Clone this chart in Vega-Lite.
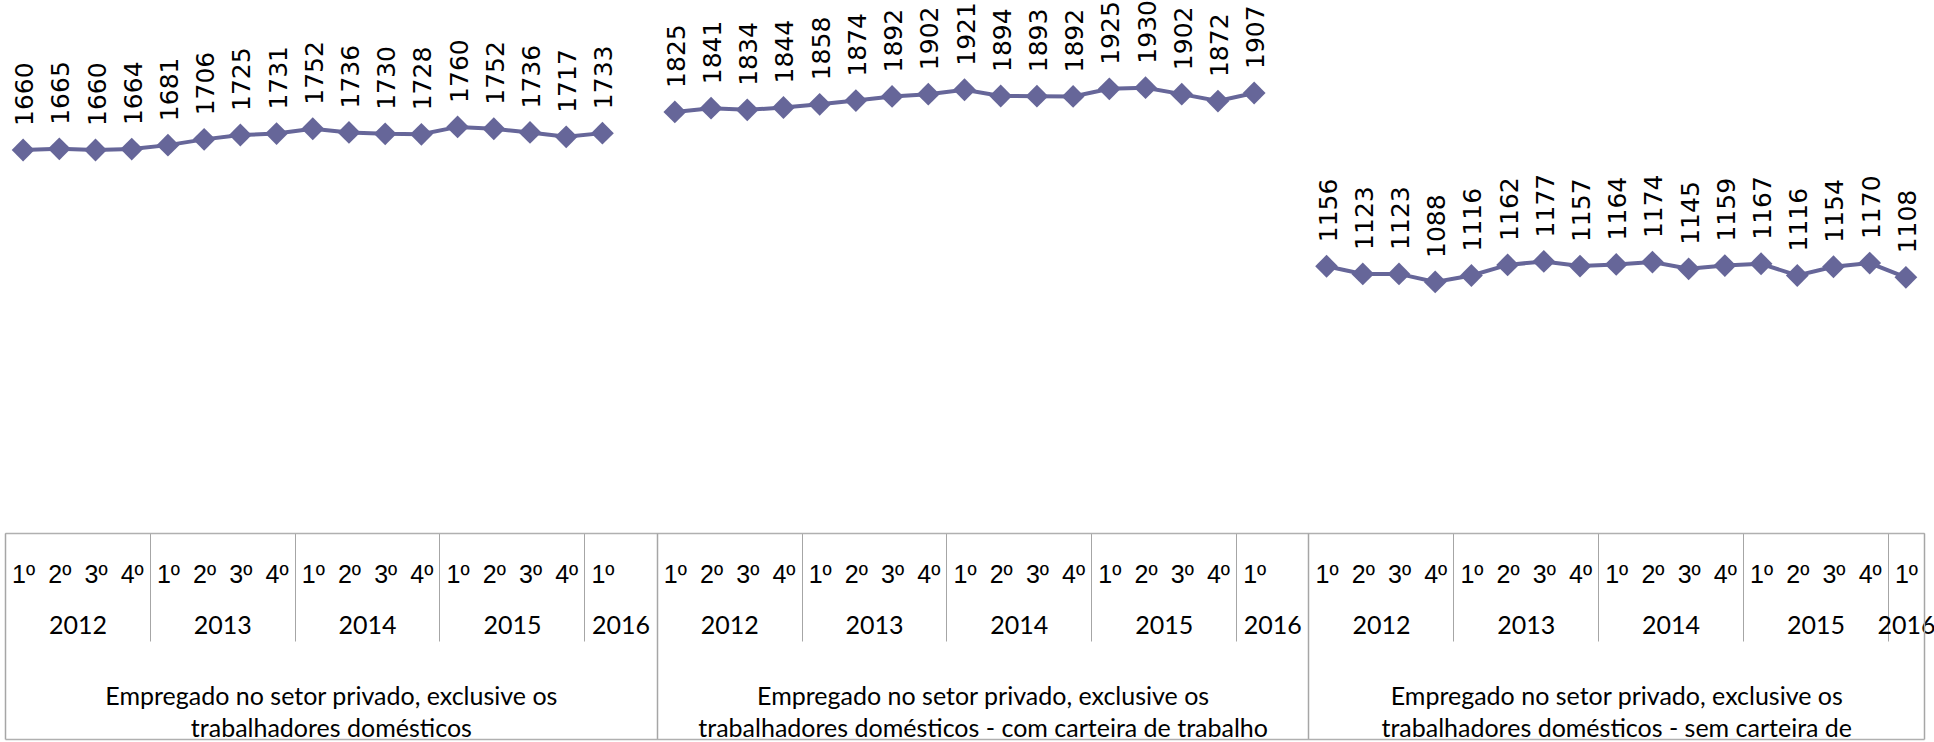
{
  "$schema": "https://vega.github.io/schema/vega-lite/v6.json",
  "width": 1919,
  "height": 533,
  "autosize": "none",
  "padding": {"left": 5, "right": 10, "top": 0, "bottom": 209},
  "background": "white",
  "config": {"view": {"stroke": null}},
  "data": {"values": [
    {"i": 1, "serie": "Total", "ano": 2012, "tri": "1º", "valor": 1660},
    {"i": 2, "serie": "Total", "ano": 2012, "tri": "2º", "valor": 1665},
    {"i": 3, "serie": "Total", "ano": 2012, "tri": "3º", "valor": 1660},
    {"i": 4, "serie": "Total", "ano": 2012, "tri": "4º", "valor": 1664},
    {"i": 5, "serie": "Total", "ano": 2013, "tri": "1º", "valor": 1681},
    {"i": 6, "serie": "Total", "ano": 2013, "tri": "2º", "valor": 1706},
    {"i": 7, "serie": "Total", "ano": 2013, "tri": "3º", "valor": 1725},
    {"i": 8, "serie": "Total", "ano": 2013, "tri": "4º", "valor": 1731},
    {"i": 9, "serie": "Total", "ano": 2014, "tri": "1º", "valor": 1752},
    {"i": 10, "serie": "Total", "ano": 2014, "tri": "2º", "valor": 1736},
    {"i": 11, "serie": "Total", "ano": 2014, "tri": "3º", "valor": 1730},
    {"i": 12, "serie": "Total", "ano": 2014, "tri": "4º", "valor": 1728},
    {"i": 13, "serie": "Total", "ano": 2015, "tri": "1º", "valor": 1760},
    {"i": 14, "serie": "Total", "ano": 2015, "tri": "2º", "valor": 1752},
    {"i": 15, "serie": "Total", "ano": 2015, "tri": "3º", "valor": 1736},
    {"i": 16, "serie": "Total", "ano": 2015, "tri": "4º", "valor": 1717},
    {"i": 17, "serie": "Total", "ano": 2016, "tri": "1º", "valor": 1733},
    {"i": 19, "serie": "Com carteira", "ano": 2012, "tri": "1º", "valor": 1825},
    {"i": 20, "serie": "Com carteira", "ano": 2012, "tri": "2º", "valor": 1841},
    {"i": 21, "serie": "Com carteira", "ano": 2012, "tri": "3º", "valor": 1834},
    {"i": 22, "serie": "Com carteira", "ano": 2012, "tri": "4º", "valor": 1844},
    {"i": 23, "serie": "Com carteira", "ano": 2013, "tri": "1º", "valor": 1858},
    {"i": 24, "serie": "Com carteira", "ano": 2013, "tri": "2º", "valor": 1874},
    {"i": 25, "serie": "Com carteira", "ano": 2013, "tri": "3º", "valor": 1892},
    {"i": 26, "serie": "Com carteira", "ano": 2013, "tri": "4º", "valor": 1902},
    {"i": 27, "serie": "Com carteira", "ano": 2014, "tri": "1º", "valor": 1921},
    {"i": 28, "serie": "Com carteira", "ano": 2014, "tri": "2º", "valor": 1894},
    {"i": 29, "serie": "Com carteira", "ano": 2014, "tri": "3º", "valor": 1893},
    {"i": 30, "serie": "Com carteira", "ano": 2014, "tri": "4º", "valor": 1892},
    {"i": 31, "serie": "Com carteira", "ano": 2015, "tri": "1º", "valor": 1925},
    {"i": 32, "serie": "Com carteira", "ano": 2015, "tri": "2º", "valor": 1930},
    {"i": 33, "serie": "Com carteira", "ano": 2015, "tri": "3º", "valor": 1902},
    {"i": 34, "serie": "Com carteira", "ano": 2015, "tri": "4º", "valor": 1872},
    {"i": 35, "serie": "Com carteira", "ano": 2016, "tri": "1º", "valor": 1907},
    {"i": 37, "serie": "Sem carteira", "ano": 2012, "tri": "1º", "valor": 1156},
    {"i": 38, "serie": "Sem carteira", "ano": 2012, "tri": "2º", "valor": 1123},
    {"i": 39, "serie": "Sem carteira", "ano": 2012, "tri": "3º", "valor": 1123},
    {"i": 40, "serie": "Sem carteira", "ano": 2012, "tri": "4º", "valor": 1088},
    {"i": 41, "serie": "Sem carteira", "ano": 2013, "tri": "1º", "valor": 1116},
    {"i": 42, "serie": "Sem carteira", "ano": 2013, "tri": "2º", "valor": 1162},
    {"i": 43, "serie": "Sem carteira", "ano": 2013, "tri": "3º", "valor": 1177},
    {"i": 44, "serie": "Sem carteira", "ano": 2013, "tri": "4º", "valor": 1157},
    {"i": 45, "serie": "Sem carteira", "ano": 2014, "tri": "1º", "valor": 1164},
    {"i": 46, "serie": "Sem carteira", "ano": 2014, "tri": "2º", "valor": 1174},
    {"i": 47, "serie": "Sem carteira", "ano": 2014, "tri": "3º", "valor": 1145},
    {"i": 48, "serie": "Sem carteira", "ano": 2014, "tri": "4º", "valor": 1159},
    {"i": 49, "serie": "Sem carteira", "ano": 2015, "tri": "1º", "valor": 1167},
    {"i": 50, "serie": "Sem carteira", "ano": 2015, "tri": "2º", "valor": 1116},
    {"i": 51, "serie": "Sem carteira", "ano": 2015, "tri": "3º", "valor": 1154},
    {"i": 52, "serie": "Sem carteira", "ano": 2015, "tri": "4º", "valor": 1170},
    {"i": 53, "serie": "Sem carteira", "ano": 2016, "tri": "1º", "valor": 1108}
  ]},
  "resolve": {"axis": {"x": "independent"}},
  "layer": [
    {
      "mark": {"type": "line", "color": "#666699", "strokeWidth": 4},
      "encoding": {
        "x": {
          "field": "i", "type": "quantitative",
          "scale": {"domain": [0.5, 53.5], "nice": false, "zero": false},
          "axis": {
            "orient": "bottom",
            "title": null,
            "values": [0.5,1.5,2.5,3.5,4.5,5.5,6.5,7.5,8.5,9.5,10.5,11.5,12.5,13.5,14.5,15.5,16.5,17.5,18.5,19.5,20.5,21.5,22.5,23.5,24.5,25.5,26.5,27.5,28.5,29.5,30.5,31.5,32.5,33.5,34.5,35.5,36.5,37.5,38.5,39.5,40.5,41.5,42.5,43.5,44.5,45.5,46.5,47.5,48.5,49.5,50.5,51.5,52.5,53.5],
            "labelExpr": "((datum.value - 0.5) % 18) == 17 ? '' : (((datum.value - 0.5) % 18) % 4 + 1) + 'º'",
            "labelOffset": 18.1,
            "labelPadding": -67,
            "labelBaseline": "middle",
            "labelAlign": "center",
            "labelFont": "Liberation Sans",
            "labelFontSize": 25,
            "labelColor": "#000000",
            "labelOverlap": false,
            "labelFlush": false,
            "labelBound": false,
            "labelLimit": 0,
            "ticks": true,
            "tickSize": 108,
            "tickWidth": 1,
            "tickColor": "#A6A6A6",
            "tickOpacity": {"condition": {"test": "indexof([0.5,4.5,8.5,12.5,16.5,18.5,22.5,26.5,30.5,34.5,36.5,40.5,44.5,48.5,52.5,53.5], datum.value) >= 0", "value": 1}, "value": 0},
            "domain": true,
            "domainColor": "#B0B0B0",
            "domainWidth": 1.5,
            "grid": false
          }
        },
        "y": {"field": "valor", "type": "quantitative", "scale": {"domain": [0, 2310], "nice": false}, "axis": null},
        "detail": {"field": "serie"}
      }
    },
    {
      "mark": {"type": "point", "shape": "diamond", "filled": true, "size": 520, "color": "#666699", "opacity": 1},
      "encoding": {
        "x": {
          "field": "i", "type": "quantitative",
          "scale": {"domain": [0.5, 53.5], "nice": false, "zero": false},
          "axis": {
            "orient": "bottom",
            "title": null,
            "values": [2.5, 6.5, 10.5, 14.5, 17.5, 20.5, 24.5, 28.5, 32.5, 35.5, 38.5, 42.5, 46.5, 50.5, 53],
            "labelExpr": "'' + (2012 + floor(((datum.value - 1) % 18) / 4))",
            "labelPadding": 92,
            "labelBaseline": "middle",
            "labelAlign": "center",
            "labelFont": "Lato",
            "labelFontSize": 25,
            "labelColor": "#000000",
            "labelOverlap": false,
            "labelFlush": false,
            "labelBound": false,
            "labelLimit": 0,
            "ticks": false,
            "domain": false,
            "grid": false
          }
        },
        "y": {"field": "valor", "type": "quantitative", "scale": {"domain": [0, 2310], "nice": false}, "axis": null}
      }
    },
    {
      "mark": {"type": "text", "angle": 270, "align": "left", "baseline": "middle", "dx": 24, "dy": 2, "font": "DejaVu Sans", "fontSize": 25, "color": "#000000"},
      "encoding": {
        "x": {
          "field": "i", "type": "quantitative",
          "scale": {"domain": [0.5, 53.5], "nice": false, "zero": false},
          "axis": {
            "orient": "bottom",
            "title": null,
            "offset": 206,
            "values": [0.5, 18.5, 36.5, 53.5],
            "labelExpr": "datum.value == 0.5 ? ['Empregado no setor privado, exclusive os', 'trabalhadores domésticos'] : datum.value == 18.5 ? ['Empregado no setor privado, exclusive os', 'trabalhadores domésticos - com carteira de trabalho'] : datum.value == 36.5 ? ['Empregado no setor privado, exclusive os', 'trabalhadores domésticos - sem carteira de'] : ''",
            "labelOffset": {"condition": {"test": "datum.value == 36.5", "value": 307.8}, "value": 325.9},
            "labelPadding": 151,
            "labelBaseline": "top",
            "labelAlign": "center",
            "labelLineHeight": 32,
            "labelFont": "Lato",
            "labelFontSize": 25,
            "labelColor": "#000000",
            "labelOverlap": false,
            "labelFlush": false,
            "labelBound": false,
            "labelLimit": 0,
            "ticks": true,
            "tickSize": -206,
            "tickWidth": 1.5,
            "tickColor": "#A6A6A6",
            "domain": true,
            "domainColor": "#B0B0B0",
            "domainWidth": 1.5,
            "grid": false
          }
        },
        "y": {"field": "valor", "type": "quantitative", "scale": {"domain": [0, 2310], "nice": false}, "axis": null},
        "text": {"field": "valor", "type": "quantitative", "format": "d"}
      }
    }
  ]
}
